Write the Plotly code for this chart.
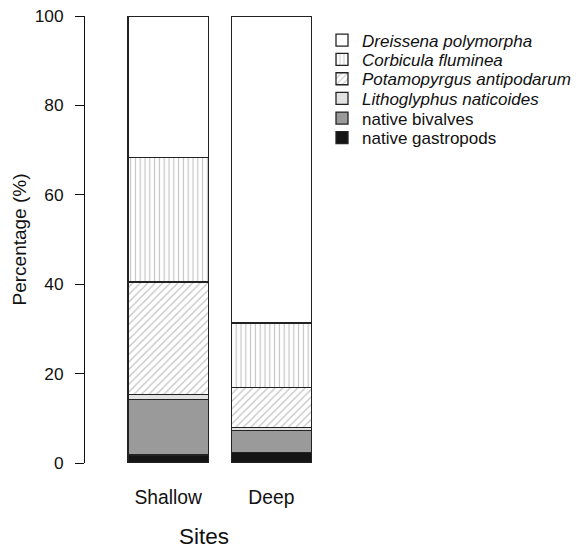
import plotly.graph_objects as go

sites = ["Shallow", "Deep"]
# stacked from bottom to top
gastropods = [1.8, 2.4]
bivalves = [12.4, 4.8]
lithoglyphus = [1.1, 0.7]
potamopyrgus = [25.2, 9.0]
corbicula = [27.9, 14.4]
dreissena = [31.6, 68.7]

series = [
    ("native gastropods", gastropods, dict(color="#151515")),
    ("native bivalves", bivalves, dict(color="#9a9a9a")),
    ("<i>Lithoglyphus naticoides</i>", lithoglyphus, dict(color="#e2e2e2")),
    ("<i>Potamopyrgus antipodarum</i>", potamopyrgus,
     dict(color="white", pattern=dict(shape="/", fgcolor="#888888", bgcolor="white", size=5.3, solidity=0.24))),
    ("<i>Corbicula fluminea</i>", corbicula,
     dict(color="white", pattern=dict(shape="|", fgcolor="#888888", bgcolor="white", size=4.8, solidity=0.24))),
    ("<i>Dreissena polymorpha</i>", dreissena, dict(color="white")),
]

W, H = 577, 550
L, T, B = 85, 16, 87
x0 = -0.806
ppu = 103.0
x1 = 1.5
plot_w = (x1 - x0) * ppu
R = W - L - plot_w

font = "Liberation Sans, Arial, Helvetica, sans-serif"
# legend rows (top to bottom), pixel centres
row_y = [40.5, 59.8, 79.2, 98.8, 118.5, 138.0]
n = len(series)

fig = go.Figure()
legends = {}
for i, (name, vals, mk) in enumerate(series):
    mk = dict(mk)
    mk["line"] = dict(color="#222222", width=1.3)
    lg = "legend" if i == 0 else f"legend{i+1}"
    fig.add_trace(go.Bar(x=[0, 1], y=vals, name=name, marker=mk, legend=lg))
    row = n - 1 - i
    legends[lg] = dict(
        xref="container", yref="container",
        x=322 / W, y=1 - row_y[row] / H, xanchor="left", yanchor="middle",
        itemwidth=30, font=dict(size=17, color="#111111", family=font),
        bgcolor="rgba(0,0,0,0)",
    )

fig.update_layout(
    width=W, height=H,
    margin=dict(l=L, r=R, t=T, b=B, pad=0, autoexpand=False),
    barmode="stack",
    bargap=0.223,
    plot_bgcolor="white", paper_bgcolor="white",
    font=dict(family=font, size=17, color="#111111"),
    showlegend=True,
    **legends,
)
fig.update_xaxes(
    range=[x0, x1], tickmode="array", tickvals=[0, 1], ticktext=sites,
    showgrid=False, zeroline=False, showline=False, ticks="",
    ticklabelstandoff=21,
    tickfont=dict(size=19.3),
    title=dict(text="Sites", font=dict(size=22.5), standoff=20),
)
fig.update_yaxes(
    range=[0, 100], tickvals=[0, 20, 40, 60, 80, 100],
    showgrid=False, zeroline=False, showline=True, linecolor="#111111", linewidth=1,
    ticks="outside", ticklen=9, tickcolor="#111111", ticklabelstandoff=8,
    tickfont=dict(size=17.3),
    title=dict(text="Percentage (%)", font=dict(size=19), standoff=3),
)
fig.write_html("out.html")
